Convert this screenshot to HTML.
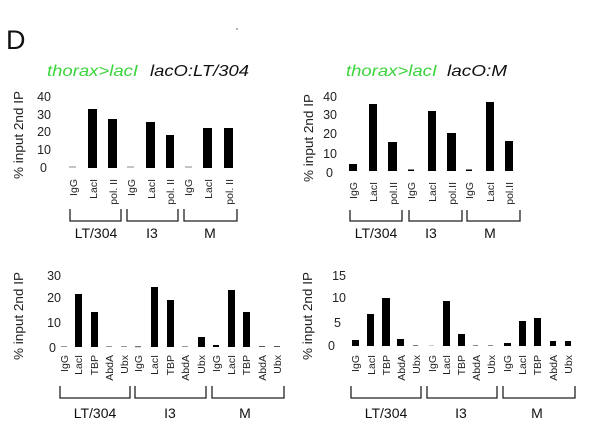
<!DOCTYPE html>
<html><head><meta charset="utf-8"><style>
html,body{margin:0;padding:0;background:#fff;}
svg{display:block;font-family:"Liberation Sans",Arial,sans-serif;}
.t{font-size:12.5px;fill:#222;}
.c{font-size:10.5px;fill:#222;}
.g{font-size:14px;fill:#111;}
.yl{font-size:13px;fill:#222;}
</style></head><body>
<svg width="600" height="447" viewBox="0 0 600 447" xmlns="http://www.w3.org/2000/svg">
<rect width="600" height="447" fill="#fff"/>
<text x="6" y="49" font-size="27" fill="#111">D</text>
<circle cx="237" cy="29" r="0.8" fill="#555"/>
<g font-size="16" font-style="italic">
<text x="47" y="76" fill="#3bd53b" textLength="91" lengthAdjust="spacingAndGlyphs">thorax&gt;lacI</text>
<text x="150" y="76" fill="#111" textLength="99" lengthAdjust="spacingAndGlyphs">lacO:LT/304</text>
<text x="346" y="76" fill="#3bd53b" textLength="91" lengthAdjust="spacingAndGlyphs">thorax&gt;lacI</text>
<text x="447" y="76" fill="#111" textLength="60" lengthAdjust="spacingAndGlyphs">lacO:M</text>
</g>

<!-- Panel 1 -->
<text class="yl" transform="rotate(-90 23 135)" x="23" y="135" text-anchor="middle" textLength="88" lengthAdjust="spacingAndGlyphs">% input 2nd IP</text>
<g class="t" text-anchor="end">
<text x="51" y="101">40</text><text x="51" y="119">30</text><text x="51" y="136">20</text><text x="51" y="154">10</text><text x="47" y="172">0</text>
</g>
<g fill="#000">
<rect x="69" y="166.5" width="7" height="1" fill="#888"/>
<rect x="88" y="109" width="9" height="59"/>
<rect x="108" y="119" width="9" height="49"/>
<rect x="127" y="166.5" width="7" height="1" fill="#888"/>
<rect x="146" y="122" width="9" height="46"/>
<rect x="166" y="135" width="8" height="33"/>
<rect x="185" y="166.5" width="7" height="1" fill="#888"/>
<rect x="203" y="128" width="9" height="40"/>
<rect x="224" y="128" width="9" height="40"/>
</g>
<g class="c" text-anchor="end">
<text transform="rotate(-90 77 179)" x="77" y="179">IgG</text>
<text transform="rotate(-90 97 179)" x="97" y="179">LacI</text>
<text transform="rotate(-90 117 179)" x="117" y="179">pol. II</text>
<text transform="rotate(-90 135 179)" x="135" y="179">IgG</text>
<text transform="rotate(-90 155 179)" x="155" y="179">LacI</text>
<text transform="rotate(-90 174 179)" x="174" y="179">pol. II</text>
<text transform="rotate(-90 192 179)" x="192" y="179">IgG</text>
<text transform="rotate(-90 212 179)" x="212" y="179">LacI</text>
<text transform="rotate(-90 233 179)" x="233" y="179">pol. II</text>
</g>
<g fill="none" stroke="#222" stroke-width="1.3">
<path d="M70 209V221H121V209"/><path d="M127 209V221H178V209"/><path d="M184 209V221H237V209"/>
</g>
<g class="g" text-anchor="middle">
<text x="96" y="238">LT/304</text><text x="152" y="238">I3</text><text x="210" y="238">M</text>
</g>

<!-- Panel 2 -->
<text class="yl" transform="rotate(-90 313 138)" x="313" y="138" text-anchor="middle" textLength="88" lengthAdjust="spacingAndGlyphs">% input 2nd IP</text>
<g class="t" text-anchor="end">
<text x="337" y="101">40</text><text x="337" y="119">30</text><text x="337" y="138">20</text><text x="337" y="158">10</text><text x="333" y="177">0</text>
</g>
<g fill="#000">
<rect x="349" y="164" width="8" height="7"/>
<rect x="369" y="104" width="8" height="67"/>
<rect x="388" y="142" width="9" height="29"/>
<rect x="408" y="169.5" width="6" height="1.5"/>
<rect x="428" y="111" width="8" height="60"/>
<rect x="447" y="133" width="9" height="38"/>
<rect x="466" y="169.5" width="6" height="1.5"/>
<rect x="486" y="102" width="8" height="69"/>
<rect x="505" y="141" width="8" height="30"/>
</g>
<g class="c" text-anchor="end">
<text transform="rotate(-90 357 182)" x="357" y="182">IgG</text>
<text transform="rotate(-90 377 182)" x="377" y="182">LacI</text>
<text transform="rotate(-90 397 182)" x="397" y="182">pol.II</text>
<text transform="rotate(-90 415 182)" x="415" y="182">IgG</text>
<text transform="rotate(-90 436 182)" x="436" y="182">LacI</text>
<text transform="rotate(-90 456 182)" x="456" y="182">pol.II</text>
<text transform="rotate(-90 473 182)" x="473" y="182">IgG</text>
<text transform="rotate(-90 494 182)" x="494" y="182">LacI</text>
<text transform="rotate(-90 513 182)" x="513" y="182">pol.II</text>
</g>
<g fill="none" stroke="#222" stroke-width="1.3">
<path d="M350 210V221H402V210"/><path d="M409 210V221H462V210"/><path d="M467 210V221H520V210"/>
</g>
<g class="g" text-anchor="middle">
<text x="376" y="238">LT/304</text><text x="431" y="238">I3</text><text x="490" y="238">M</text>
</g>

<!-- Panel 3 -->
<text class="yl" transform="rotate(-90 23 316)" x="23" y="316" text-anchor="middle" textLength="88" lengthAdjust="spacingAndGlyphs">% input 2nd IP</text>
<g class="t" text-anchor="end">
<text x="61" y="280">30</text><text x="61" y="302">20</text><text x="61" y="327">10</text><text x="56" y="352">0</text>
</g>
<g fill="#000">
<rect x="61" y="346" width="6" height="1" fill="#999"/>
<rect x="75" y="294" width="7" height="53"/>
<rect x="91" y="312" width="7" height="35"/>
<rect x="106" y="346" width="6" height="1" fill="#999"/>
<rect x="121" y="346" width="6" height="1" fill="#999"/>
<rect x="135" y="346" width="6" height="1.3" fill="#777"/>
<rect x="151" y="287" width="7" height="60"/>
<rect x="167" y="300" width="7" height="47"/>
<rect x="182" y="346" width="6" height="1" fill="#999"/>
<rect x="198" y="337" width="7" height="10"/>
<rect x="213" y="345" width="6" height="2"/>
<rect x="228" y="290" width="7" height="57"/>
<rect x="243" y="312" width="7" height="35"/>
<rect x="259" y="346" width="6" height="1" fill="#555"/>
<rect x="274" y="346" width="6" height="1" fill="#555"/>
</g>
<g class="c" text-anchor="end">
<text transform="rotate(-90 68 355)" x="68" y="355">IgG</text>
<text transform="rotate(-90 82 355)" x="82" y="355">LacI</text>
<text transform="rotate(-90 98 355)" x="98" y="355">TBP</text>
<text transform="rotate(-90 113 355)" x="113" y="355">AbdA</text>
<text transform="rotate(-90 128 355)" x="128" y="355">Ubx</text>
<text transform="rotate(-90 142 355)" x="142" y="355">IgG</text>
<text transform="rotate(-90 158 355)" x="158" y="355">LacI</text>
<text transform="rotate(-90 174 355)" x="174" y="355">TBP</text>
<text transform="rotate(-90 189 355)" x="189" y="355">AbdA</text>
<text transform="rotate(-90 205 355)" x="205" y="355">Ubx</text>
<text transform="rotate(-90 220 355)" x="220" y="355">IgG</text>
<text transform="rotate(-90 235 355)" x="235" y="355">LacI</text>
<text transform="rotate(-90 250 355)" x="250" y="355">TBP</text>
<text transform="rotate(-90 266 355)" x="266" y="355">AbdA</text>
<text transform="rotate(-90 281 355)" x="281" y="355">Ubx</text>
</g>
<g fill="none" stroke="#222" stroke-width="1.3">
<path d="M60 386V398H130V386"/><path d="M135 386V398H206V386"/><path d="M212 386V398H284V386"/>
</g>
<g class="g" text-anchor="middle">
<text x="95" y="418">LT/304</text><text x="170" y="418">I3</text><text x="245" y="418">M</text>
</g>

<!-- Panel 4 -->
<text class="yl" transform="rotate(-90 312 316)" x="312" y="316" text-anchor="middle" textLength="88" lengthAdjust="spacingAndGlyphs">% input 2nd IP</text>
<g class="t" text-anchor="end">
<text x="346" y="280">15</text><text x="346" y="302">10</text><text x="341" y="327">5</text><text x="335" y="350">0</text>
</g>
<g fill="#000">
<rect x="352" y="340" width="7" height="6"/>
<rect x="367" y="314" width="7" height="32"/>
<rect x="382" y="298" width="8" height="48"/>
<rect x="397" y="339" width="7" height="7"/>
<rect x="413" y="345" width="5" height="1" fill="#777"/>
<rect x="429" y="345" width="5" height="1" fill="#ccc"/>
<rect x="443" y="301" width="7" height="45"/>
<rect x="458" y="334" width="7" height="12"/>
<rect x="473" y="345" width="5" height="1" fill="#888"/>
<rect x="488" y="345" width="5" height="1" fill="#888"/>
<rect x="504" y="343" width="7" height="3"/>
<rect x="519" y="321" width="7" height="25"/>
<rect x="534" y="318" width="7" height="28"/>
<rect x="550" y="341" width="6" height="5"/>
<rect x="565" y="341" width="6" height="5"/>
</g>
<g class="c" text-anchor="end">
<text transform="rotate(-90 359 355)" x="359" y="355">IgG</text>
<text transform="rotate(-90 375 355)" x="375" y="355">LacI</text>
<text transform="rotate(-90 390 355)" x="390" y="355">TBP</text>
<text transform="rotate(-90 405 355)" x="405" y="355">AbdA</text>
<text transform="rotate(-90 420 355)" x="420" y="355">Ubx</text>
<text transform="rotate(-90 436 355)" x="436" y="355">IgG</text>
<text transform="rotate(-90 450 355)" x="450" y="355">LacI</text>
<text transform="rotate(-90 465 355)" x="465" y="355">TBP</text>
<text transform="rotate(-90 480 355)" x="480" y="355">AbdA</text>
<text transform="rotate(-90 495 355)" x="495" y="355">Ubx</text>
<text transform="rotate(-90 511 355)" x="511" y="355">IgG</text>
<text transform="rotate(-90 526 355)" x="526" y="355">LacI</text>
<text transform="rotate(-90 541 355)" x="541" y="355">TBP</text>
<text transform="rotate(-90 557 355)" x="557" y="355">AbdA</text>
<text transform="rotate(-90 572 355)" x="572" y="355">Ubx</text>
</g>
<g fill="none" stroke="#222" stroke-width="1.3">
<path d="M351 386V398H421V386"/><path d="M427 386V398H497V386"/><path d="M503 386V398H575V386"/>
</g>
<g class="g" text-anchor="middle">
<text x="386" y="418">LT/304</text><text x="461" y="418">I3</text><text x="537" y="418">M</text>
</g>
</svg>
</body></html>
